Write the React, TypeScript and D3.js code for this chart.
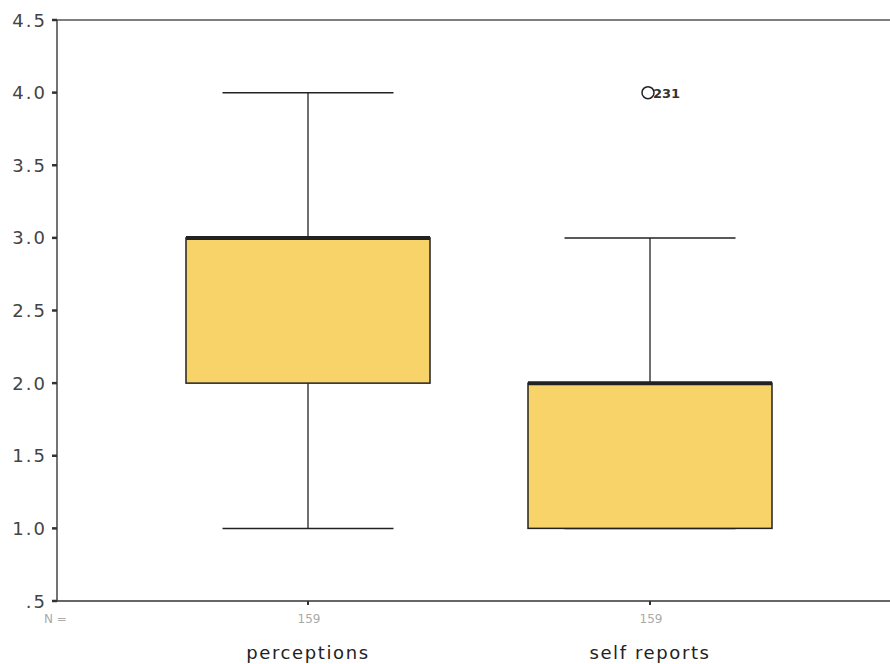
import React from "react";
import * as d3 from "d3";

const categories = ["perceptions", "self reports"];
const nValues = [159, 159];
const mins = [1, 1];
const q1s = [2, 1];
const medians = [3, 2];
const q3s = [3, 2];
const maxs = [4, 3];
const outlierValues = [[], [4]];
const outlierLabels = [[], ["231"]];
const yTicks = [0.5, 1.0, 1.5, 2.0, 2.5, 3.0, 3.5, 4.0, 4.5];
const yTickLabels = [".5", "1.0", "1.5", "2.0", "2.5", "3.0", "3.5", "4.0", "4.5"];

export default function App() {
  const W = 890, H = 664;
  const left = 57, right = 890, top = 20, bottom = 601;
  const y = d3.scaleLinear().domain([0.5, 4.5]).range([bottom, top]);
  const x = d3.scalePoint<string>().domain(categories).range([308, 650]);
  const boxW = 244;
  const capW = 171;
  const font = "'DejaVu Sans', Verdana, sans-serif";
  return (
    <svg width={W} height={H} style={{ position: "absolute", left: 0, top: 0, background: "#fff" }}>
      <rect x={0} y={0} width={W} height={H} fill="#fff" />
      {/* frame */}
      <line x1={left - 5} x2={right} y1={top} y2={top} stroke="#555" strokeWidth={1.5} />
      <line x1={left} x2={left} y1={top} y2={bottom} stroke="#444" strokeWidth={1.5} />
      <line x1={left - 5} x2={right} y1={bottom} y2={bottom} stroke="#333" strokeWidth={1.5} />
      {yTicks.map((t, i) => (
        <g key={i}>
          <line x1={left - 5} x2={left} y1={y(t)} y2={y(t)} stroke="#333" strokeWidth={2.5} />
          <text x={47} y={y(t) + 6.5} textAnchor="end" fontFamily={font} fontSize={18} letterSpacing={2} fill="#444">
            {yTickLabels[i]}
          </text>
        </g>
      ))}
      {categories.map((c, i) => {
        const cx = x(c)!;
        return (
          <g key={c}>
            {/* whiskers */}
            <line x1={cx} x2={cx} y1={y(maxs[i])} y2={y(q3s[i])} stroke="#222" strokeWidth={1.3} />
            <line x1={cx} x2={cx} y1={y(q1s[i])} y2={y(mins[i])} stroke="#222" strokeWidth={1.3} />
            <line x1={cx - capW / 2} x2={cx + capW / 2} y1={y(maxs[i])} y2={y(maxs[i])} stroke="#222" strokeWidth={1.5} />
            <line x1={cx - capW / 2} x2={cx + capW / 2} y1={y(mins[i])} y2={y(mins[i])} stroke="#222" strokeWidth={1.5} />
            <rect
              x={cx - boxW / 2}
              y={y(q3s[i])}
              width={boxW}
              height={y(q1s[i]) - y(q3s[i])}
              fill="#F8D36A"
              stroke="#222"
              strokeWidth={1.5}
            />
            <line x1={cx - boxW / 2} x2={cx + boxW / 2} y1={y(medians[i])} y2={y(medians[i])} stroke="#222" strokeWidth={4} />
            {outlierValues[i].map((v, j) => (
              <g key={j}>
                <circle cx={cx - 2} cy={y(v)} r={6} fill="none" stroke="#222" strokeWidth={1.5} />
                <text x={cx + 3} y={y(v) + 5} fontFamily={font} fontSize={13} fontWeight="bold" fill="#333">
                  {outlierLabels[i][j]}
                </text>
              </g>
            ))}
            <line x1={cx} x2={cx} y1={bottom} y2={bottom + 4} stroke="#333" strokeWidth={2} />
            <text x={cx + 1} y={623} textAnchor="middle" fontFamily={font} fontSize={12} fill="#aaa">
              {nValues[i]}
            </text>
            <text x={cx} y={659} textAnchor="middle" fontFamily={font} fontSize={18} letterSpacing={1.6} fill="#222">
              {c}
            </text>
          </g>
        );
      })}
      <text x={44} y={623} fontFamily={font} fontSize={12} fill="#aaa">N =</text>
    </svg>
  );
}
